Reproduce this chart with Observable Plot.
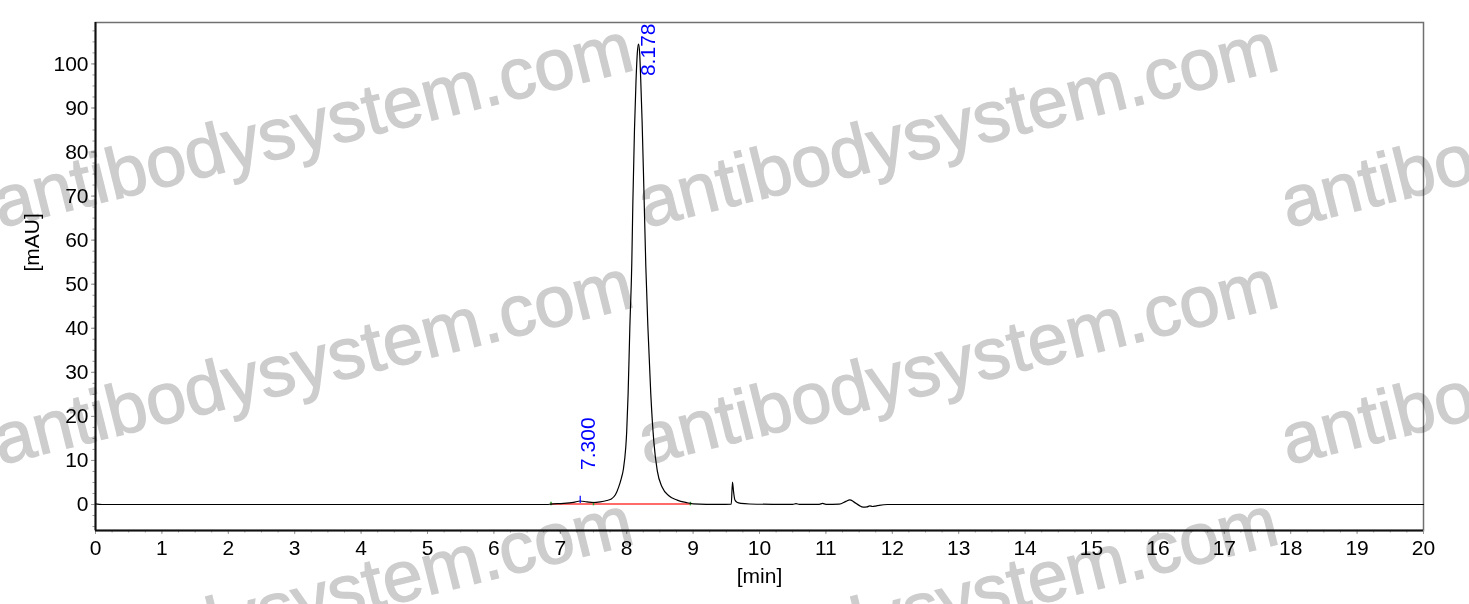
<!DOCTYPE html>
<html>
<head>
<meta charset="utf-8">
<script src="https://cdn.jsdelivr.net/npm/d3@7"></script>
<script src="https://cdn.jsdelivr.net/npm/@observablehq/plot@0.6"></script>
<style>
  html, body { margin: 0; padding: 0; background: white; }
  #wrap { position: relative; width: 1469px; height: 604px; overflow: hidden; }
  #wm { position: absolute; left: 0; top: 0; pointer-events: none; mix-blend-mode: multiply; }
</style>
</head>
<body>
<div id="wrap"></div>
<script>
// ---- data ----
const times = [0, 0.1, 3, 6, 6.8, 6.86, 7.05, 7.2, 7.3, 7.4, 7.5, 7.6, 7.7, 7.76, 7.83, 7.88, 7.92, 7.95, 7.986, 8.0, 8.021, 8.047, 8.077, 8.092, 8.117, 8.14, 8.16, 8.178, 8.195, 8.21, 8.232, 8.258, 8.288, 8.32, 8.363, 8.41, 8.46, 8.535, 8.635, 8.76, 8.91, 9.0, 9.2, 9.4, 9.575, 9.593, 9.61, 9.63, 9.66, 9.72, 9.85, 10.2, 10.5, 10.55, 10.6, 10.9, 10.95, 11.0, 11.2, 11.3, 11.36, 11.42, 11.5, 11.56, 11.62, 11.66, 11.7, 11.75, 11.8, 11.93, 13, 16, 20];
const signal = [0.15, 0, 0, 0, 0, 0.1, 0.25, 0.5, 0.8, 0.6, 0.45, 0.6, 0.9, 1.2, 2.2, 4.0, 6.0, 8.0, 13, 16.5, 25, 40, 55, 68, 85, 96, 102.5, 104.5, 102.5, 97, 87, 72, 54, 40, 25, 14, 7.7, 3.9, 2.0, 1.0, 0.4, 0.15, 0.05, 0.05, 0.1, 5.1, 2.8, 1.0, 0.5, 0.25, 0.12, 0.05, 0.05, 0.2, 0.05, 0.05, 0.25, 0.05, 0.1, 0.7, 1.07, 0.6, -0.2, -0.6, -0.55, -0.3, -0.45, -0.35, -0.2, 0, 0, 0, 0];

const peakTimes = [7.300, 8.178];
const peakHeights = [0.8, 104.5];
const peakLabels = ["7.300", "8.178"];

const baselineTimes = [6.86, 8.96];
const baselineValues = [0.1, 0.1];
const integrationMarks = [6.86, 7.50, 8.96];

const xDomain = [0, 20];
const yDomain = [-5.9, 109.4];
const xMajor = d3.range(0, 20.001, 1);
const xMinor = d3.range(0, 20.001, 0.25);
const yMajor = d3.range(0, 100.001, 10);
const yMinor = d3.range(-5, 107.6, 2.5);
const xTitle = "[min]";
const yTitle = "[mAU]";
const watermarkText = "antibodysystem.com";

// ---- tables ----
const trace = times.map((t, i) => ({t, v: signal[i]}));
const peaks = peakTimes.map((t, i) => ({t, h: peakHeights[i], label: peakLabels[i]}));
const baseline = baselineTimes.map((t, i) => ({t, v: baselineValues[i]}));

const FONT = "'Liberation Sans', Arial, Helvetica, sans-serif";

const chart = Plot.plot({
  width: 1469,
  height: 604,
  marginLeft: 95,
  marginRight: 46,
  marginTop: 22,
  marginBottom: 74,
  style: {fontFamily: FONT, fontSize: "21px", background: "transparent", overflow: "visible"},
  x: {domain: xDomain},
  y: {domain: yDomain},
  marks: [
    Plot.frame({stroke: "#707070", strokeWidth: 1.5}),
    Plot.axisX(xMinor, {tickSize: 2.5, tickFormat: () => "", label: null, stroke: "#999"}),
    Plot.axisX(xMajor, {tickSize: 4, tickPadding: 6, label: null, stroke: "#999", fill: "black", fontSize: 21}),
    Plot.axisY(yMinor, {tickSize: 2.5, tickFormat: () => "", label: null, stroke: "#999"}),
    Plot.axisY(yMajor, {tickSize: 4, tickPadding: 3, label: null, stroke: "#999", fill: "black", fontSize: 21}),
    Plot.ruleX([xDomain[0]], {stroke: "#111", strokeWidth: 2}),
    Plot.ruleY([yDomain[0]], {stroke: "#111", strokeWidth: 2}),
    Plot.line(baseline, {x: "t", y: "v", stroke: "#ff6b6b", strokeWidth: 2}),
    Plot.ruleX(integrationMarks, {x: d => d, y1: -0.3, y2: 0.5, stroke: "#2a9d2a", strokeWidth: 1.5}),
    Plot.line(trace, {x: "t", y: "v", stroke: "black", strokeWidth: 1.2, curve: "monotone-x"}),
    Plot.ruleX([peaks[0]], {x: "t", y1: d => d.h - 0.6, y2: d => d.h + 1.1, stroke: "#0000ff", strokeWidth: 1.2}),
    Plot.text([peaks[0]], {x: "t", y: "h", text: "label", rotate: -90, textAnchor: "start", lineAnchor: "top", dy: -31, fill: "#0000ff", fontSize: 21}),
    Plot.text([peaks[1]], {x: "t", text: "label", frameAnchor: "top", rotate: -90, textAnchor: "end", lineAnchor: "top", dx: 2, dy: 1, fill: "#0000ff", fontSize: 21}),
    Plot.text([xTitle], {text: d => d, frameAnchor: "bottom", dy: 46, lineAnchor: "middle", fill: "black", fontSize: 21}),
    Plot.text([yTitle], {text: d => d, frameAnchor: "left", rotate: -90, dx: -63, dy: -5, lineAnchor: "middle", fill: "black", fontSize: 21})
  ]
});

const wrap = document.getElementById("wrap");
wrap.appendChild(chart);

// ---- watermark overlay (decoration) ----
const wm = d3.select(wrap).append("svg")
  .attr("id", "wm").attr("width", 1469).attr("height", 604);
const cols = [0, 645, 1288];
const rows = [228, 465, 702];
for (const cx of cols) for (const ry of rows) {
  wm.append("text")
    .attr("transform", `translate(${cx},${ry}) rotate(-14)`)
    .attr("font-family", FONT)
    .attr("font-size", 72)
    .attr("fill", "#cdcdcd")
    .attr("stroke", "#cdcdcd")
    .attr("stroke-width", 1.3)
    .text(watermarkText);
}
</script>
</body>
</html>
